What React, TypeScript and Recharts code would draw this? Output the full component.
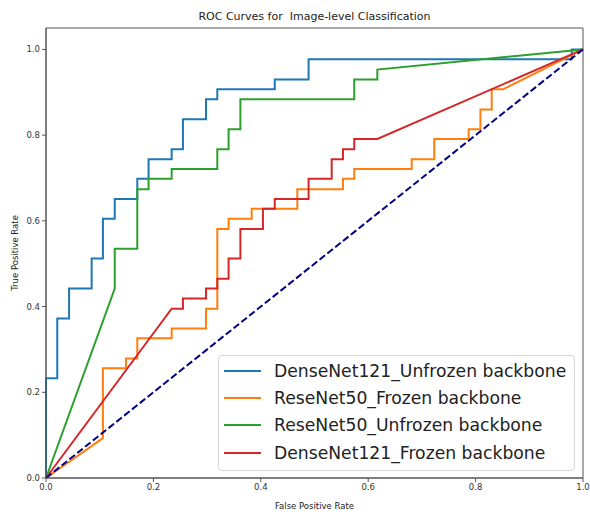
import {
  Legend,
  Line,
  LineChart,
  ReferenceArea,
  XAxis,
  YAxis,
} from 'recharts';

// ROC points (fpr / tpr pairs)
const denseUnfrozenFpr = [0, 0, 0.021, 0.021, 0.043, 0.043, 0.085, 0.085, 0.106, 0.106, 0.128, 0.128, 0.17, 0.17, 0.191, 0.191, 0.234, 0.234, 0.255, 0.255, 0.298, 0.298, 0.319, 0.319, 0.426, 0.426, 0.489, 0.489, 0.979, 0.979, 1];
const denseUnfrozenTpr = [0, 0.233, 0.233, 0.372, 0.372, 0.442, 0.442, 0.512, 0.512, 0.605, 0.605, 0.651, 0.651, 0.698, 0.698, 0.744, 0.744, 0.767, 0.767, 0.837, 0.837, 0.884, 0.884, 0.907, 0.907, 0.93, 0.93, 0.977, 0.977, 1, 1];

const resFrozenFpr = [0, 0.106, 0.106, 0.149, 0.149, 0.17, 0.17, 0.234, 0.234, 0.298, 0.298, 0.319, 0.319, 0.34, 0.34, 0.383, 0.383, 0.468, 0.468, 0.553, 0.553, 0.574, 0.574, 0.681, 0.681, 0.723, 0.723, 0.787, 0.787, 0.809, 0.809, 0.83, 0.83, 0.851, 1];
const resFrozenTpr = [0, 0.093, 0.256, 0.256, 0.279, 0.279, 0.326, 0.326, 0.349, 0.349, 0.395, 0.395, 0.581, 0.581, 0.605, 0.605, 0.628, 0.628, 0.674, 0.674, 0.698, 0.698, 0.721, 0.721, 0.744, 0.744, 0.791, 0.791, 0.814, 0.814, 0.86, 0.86, 0.907, 0.907, 1];

const resUnfrozenFpr = [0, 0.128, 0.128, 0.17, 0.17, 0.191, 0.191, 0.234, 0.234, 0.319, 0.319, 0.34, 0.34, 0.362, 0.362, 0.574, 0.574, 0.617, 0.617, 1];
const resUnfrozenTpr = [0, 0.442, 0.535, 0.535, 0.674, 0.674, 0.698, 0.698, 0.721, 0.721, 0.767, 0.767, 0.814, 0.814, 0.884, 0.884, 0.93, 0.93, 0.953, 1];

const denseFrozenFpr = [0, 0.234, 0.255, 0.255, 0.298, 0.298, 0.319, 0.319, 0.34, 0.34, 0.362, 0.362, 0.404, 0.404, 0.426, 0.426, 0.489, 0.489, 0.532, 0.532, 0.553, 0.553, 0.574, 0.574, 0.617, 1];
const denseFrozenTpr = [0, 0.395, 0.395, 0.419, 0.419, 0.442, 0.442, 0.465, 0.465, 0.512, 0.512, 0.581, 0.581, 0.628, 0.628, 0.651, 0.651, 0.698, 0.698, 0.744, 0.744, 0.767, 0.767, 0.791, 0.791, 1];

const chanceFpr = [0, 1];
const chanceTpr = [0, 1];

const axisTicks = [0, 0.2, 0.4, 0.6, 0.8, 1];

const toPoints = (fpr: number[], tpr: number[]) =>
  fpr.map((x, i) => ({ fpr: x, tpr: tpr[i] }));

const series = [
  { name: 'DenseNet121_Unfrozen backbone', color: '#1f77b4', data: toPoints(denseUnfrozenFpr, denseUnfrozenTpr) },
  { name: 'ReseNet50_Frozen backbone', color: '#ff7f0e', data: toPoints(resFrozenFpr, resFrozenTpr) },
  { name: 'ReseNet50_Unfrozen backbone', color: '#2ca02c', data: toPoints(resUnfrozenFpr, resUnfrozenTpr) },
  { name: 'DenseNet121_Frozen backbone', color: '#d62728', data: toPoints(denseFrozenFpr, denseFrozenTpr) },
];
const seriesOrder = series.map((s) => s.name);

const FONT = "'DejaVu Sans', sans-serif";
const AXIS = '#555';

function YLabel({ viewBox }: any) {
  const cy = viewBox ? viewBox.y + viewBox.height / 2 : 253;
  return (
    <text
      x={15}
      y={cy}
      transform={`rotate(-90, 15, ${cy})`}
      textAnchor="middle"
      dominantBaseline="central"
      fontSize={8.5}
      fill="#222"
      fontFamily={FONT}
    >
      True Positive Rate
    </text>
  );
}

// keep the plotting order (recharts sorts legend items by name)
function LegendBox({ payload }: any) {
  const items = (payload ?? [])
    .filter((p: any) => seriesOrder.includes(p.value))
    .sort((a: any, b: any) => seriesOrder.indexOf(a.value) - seriesOrder.indexOf(b.value));
  return (
    <div
      style={{
        border: '1px solid #d6d6d6',
        borderRadius: 4,
        background: 'rgba(255,255,255,0.85)',
        padding: '1px 0 3px 0',
        fontFamily: FONT,
        fontSize: 17.2,
        color: '#222',
      }}
    >
      {items.map((p: any) => (
        <div key={p.value} style={{ display: 'flex', alignItems: 'center', height: 27.4 }}>
          <span
            style={{
              display: 'inline-block',
              width: 37,
              height: 2,
              background: p.color,
              marginLeft: 5,
              marginRight: 13,
            }}
          />
          <span style={{ whiteSpace: 'pre' }}>{p.value}</span>
        </div>
      ))}
    </div>
  );
}

export default function App() {
  return (
    <div style={{ position: 'absolute', left: 0, top: 0, width: 590, height: 512, background: '#fff' }}>
      <div
        style={{
          position: 'absolute',
          left: 46,
          width: 537,
          top: 10,
          textAlign: 'center',
          fontFamily: FONT,
          fontSize: 11,
          color: '#222',
          whiteSpace: 'pre',
          lineHeight: '14px',
        }}
      >
        ROC Curves for  Image-level Classification
      </div>
      <LineChart
        width={590}
        height={512}
        margin={{ top: 28, right: 7, bottom: 0, left: 0 }}
        style={{ fontFamily: FONT }}
      >
        <XAxis
          dataKey="fpr"
          type="number"
          domain={[0, 1]}
          ticks={axisTicks}
          tickFormatter={(v: number) => v.toFixed(1)}
          height={34}
          tickSize={4}
          stroke={AXIS}
          tick={{ fontSize: 8.5, fill: '#333' }}
          label={{ value: 'False Positive Rate', position: 'insideBottom', offset: 3, fontSize: 8.5, fill: '#222' }}
        />
        <YAxis
          type="number"
          domain={[0, 1.05]}
          ticks={axisTicks}
          tickFormatter={(v: number) => v.toFixed(1)}
          width={46}
          tickSize={4}
          stroke={AXIS}
          tick={{ fontSize: 8.5, fill: '#333' }}
          label={<YLabel />}
        />
        <ReferenceArea x1={0} x2={1} y1={0} y2={1.05} fill="none" stroke={AXIS} strokeWidth={1} />
        {series.map((s) => (
          <Line
            key={s.name}
            name={s.name}
            data={s.data}
            dataKey="tpr"
            type="linear"
            stroke={s.color}
            strokeWidth={2}
            dot={false}
            activeDot={false}
            isAnimationActive={false}
          />
        ))}
        <Line
          name="chance"
          data={toPoints(chanceFpr, chanceTpr)}
          dataKey="tpr"
          type="linear"
          stroke="#000080"
          strokeWidth={2}
          strokeDasharray="7 3"
          dot={false}
          activeDot={false}
          legendType="none"
          isAnimationActive={false}
        />
        <Legend
          layout="vertical"
          align="center"
          verticalAlign="middle"
          content={<LegendBox />}
          wrapperStyle={{ left: 218, top: 355, width: 357, bottom: 'auto', right: 'auto', transform: 'none' }}
        />
      </LineChart>
    </div>
  );
}
